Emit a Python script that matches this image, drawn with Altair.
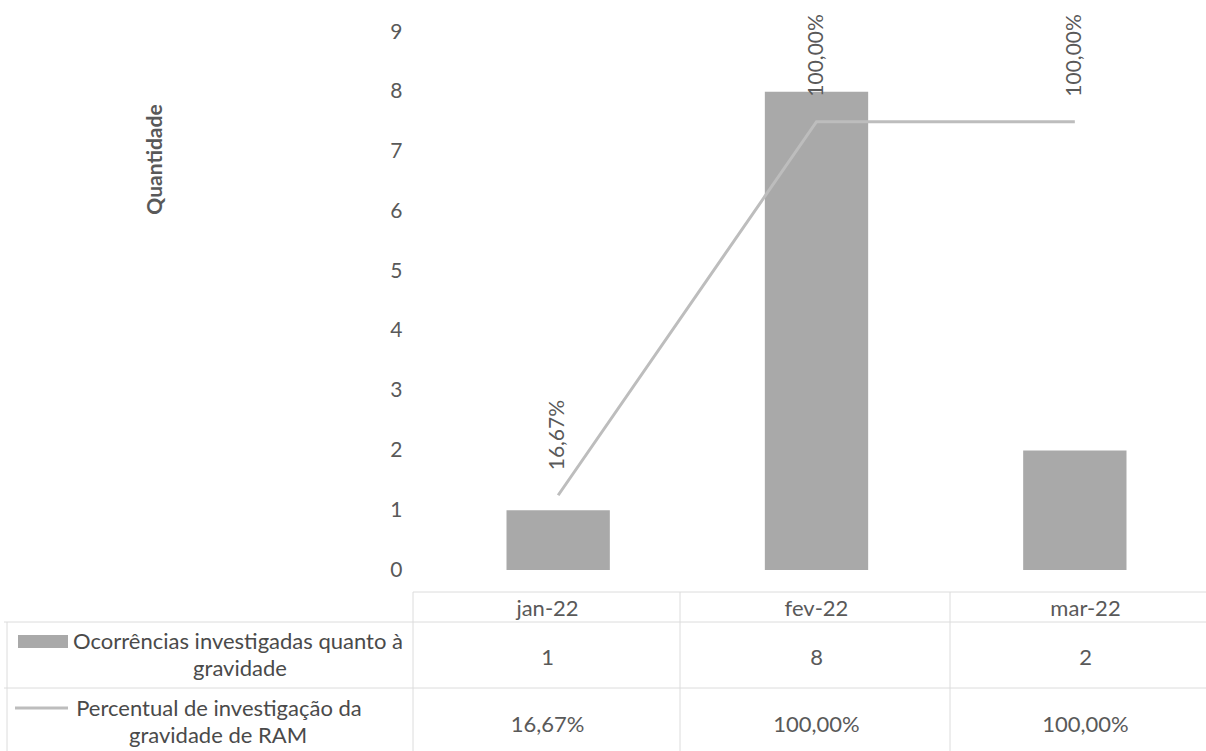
import altair as alt
import pandas as pd

# Monthly data
months = ["jan-22", "fev-22", "mar-22"]
ocorrencias = [1, 8, 2]
percentual = [0.1667, 1.0, 1.0]

serie_barras = ["Ocorrências investigadas quanto à", "gravidade"]
serie_linha = ["Percentual de investigação da", "gravidade de RAM"]
titulo_y = "Quantidade"
y_ticks = [0, 1, 2, 3, 4, 5, 6, 7, 8, 9]

BAR_COLOR = "#a9a9a9"
LINE_COLOR = "#bdbdbd"
TEXT_COLOR = "#595959"
KEY_TEXT_COLOR = "#4a4a4a"
GRID_COLOR = "#dcdcdc"
FONT = "Lato"


def pct_br(v):
    return f"{v * 100:.2f}%".replace(".", ",")


df = pd.DataFrame({
    "mes": months,
    "qtd": ocorrencias,
    "pct": percentual,
    "pct_txt": [pct_br(v) for v in percentual],
})
one = pd.DataFrame({"k": [0]})

# ---- plot area: bars (left axis) + percentage line (hidden right axis) ----
x_plot = alt.X("mes:N", sort=months, axis=None,
               scale=alt.Scale(paddingInner=0.6, paddingOuter=0.3))
y_pct = alt.Y("pct:Q", scale=alt.Scale(domain=[0, 1.2], nice=False), axis=None)

bars = alt.Chart(df).mark_bar(color=BAR_COLOR).encode(
    x=x_plot,
    y=alt.Y("qtd:Q", scale=alt.Scale(domain=[0, 9], nice=False),
            axis=alt.Axis(values=y_ticks, ticks=False, domain=False, grid=False,
                          labelPadding=27, labelFontSize=21, labelColor=TEXT_COLOR,
                          labelFont=FONT,
                          title=titulo_y, titleFontSize=21, titleFontWeight="bold",
                          titleColor=TEXT_COLOR, titleFont=FONT,
                          titleX=-274, titleY=127, titleAngle=270,
                          titleAlign="center", titleBaseline="middle")),
)

line = alt.Chart(df).mark_line(color=LINE_COLOR, strokeWidth=3).encode(
    x=x_plot, y=y_pct
)

pct_labels = alt.Chart(df).mark_text(
    angle=270, align="left", baseline="middle", dx=25,
    fontSize=21, color=TEXT_COLOR, font=FONT
).encode(x=x_plot, y=y_pct, text="pct_txt:N")

plot = alt.layer(bars, line, pct_labels).resolve_scale(y="independent")

# ---- data table under the plot ----
x_tab = alt.X("mes:N", sort=months, axis=None,
              scale=alt.Scale(range=[-16, 791], paddingInner=0, paddingOuter=0))


def table_row(field, ypos):
    return alt.Chart(df).mark_text(
        fontSize=22, color=TEXT_COLOR, font=FONT, baseline="middle"
    ).encode(x=x_tab, y=alt.value(ypos), text=field)


table = alt.layer(
    table_row("mes:N", 577),
    table_row("qtd:Q", 626),
    table_row("pct_txt:N", 693),
)


def hline(y, x0, x1, color=GRID_COLOR):
    return alt.Chart(one).mark_rule(color=color, strokeWidth=1).encode(
        x=alt.value(x0), x2=alt.value(x1), y=alt.value(y), y2=alt.value(y)
    )


def vline(x, y0, y1, color=GRID_COLOR):
    return alt.Chart(one).mark_rule(color=color, strokeWidth=1).encode(
        x=alt.value(x), x2=alt.value(x), y=alt.value(y0), y2=alt.value(y1)
    )


grid = [
    hline(560, -16, 777),
    hline(590, -425, 777),
    hline(656, -425, 777),
    vline(-16, 560, 719),
    vline(251, 560, 719),
    vline(521, 560, 719),
    vline(-422, 590, 719),
]


def key_text(txt, xpos, ypos):
    return alt.Chart(one).mark_text(
        text=txt, align="center", baseline="middle",
        fontSize=22, color=KEY_TEXT_COLOR, font=FONT
    ).encode(x=alt.value(xpos), y=alt.value(ypos))


# ---- series keys in the table's first column ----
key_bar = alt.Chart(one).mark_rect(color=BAR_COLOR).encode(
    x=alt.value(-411), x2=alt.value(-361), y=alt.value(603), y2=alt.value(616)
)
key_line = alt.Chart(one).mark_rule(color=LINE_COLOR, strokeWidth=3).encode(
    x=alt.value(-414), x2=alt.value(-361), y=alt.value(676), y2=alt.value(676)
)
keys = [
    key_bar,
    key_line,
    key_text(serie_barras[0], -191, 610),
    key_text(serie_barras[1], -189, 637),
    key_text(serie_linha[0], -210, 677),
    key_text(serie_linha[1], -211, 704),
]

chart = alt.layer(
    *grid, plot, table, *keys
).resolve_scale(
    x="independent", y="independent"
).properties(
    width=775, height=538,
    autosize=alt.AutoSizeParams(type="none"),
    padding={"left": 429, "top": 32, "right": 2, "bottom": 181},
    background="white",
).configure_view(stroke=None).configure_text(font=FONT)

chart.save("out.html", embed_options={"renderer": "svg", "actions": False})
